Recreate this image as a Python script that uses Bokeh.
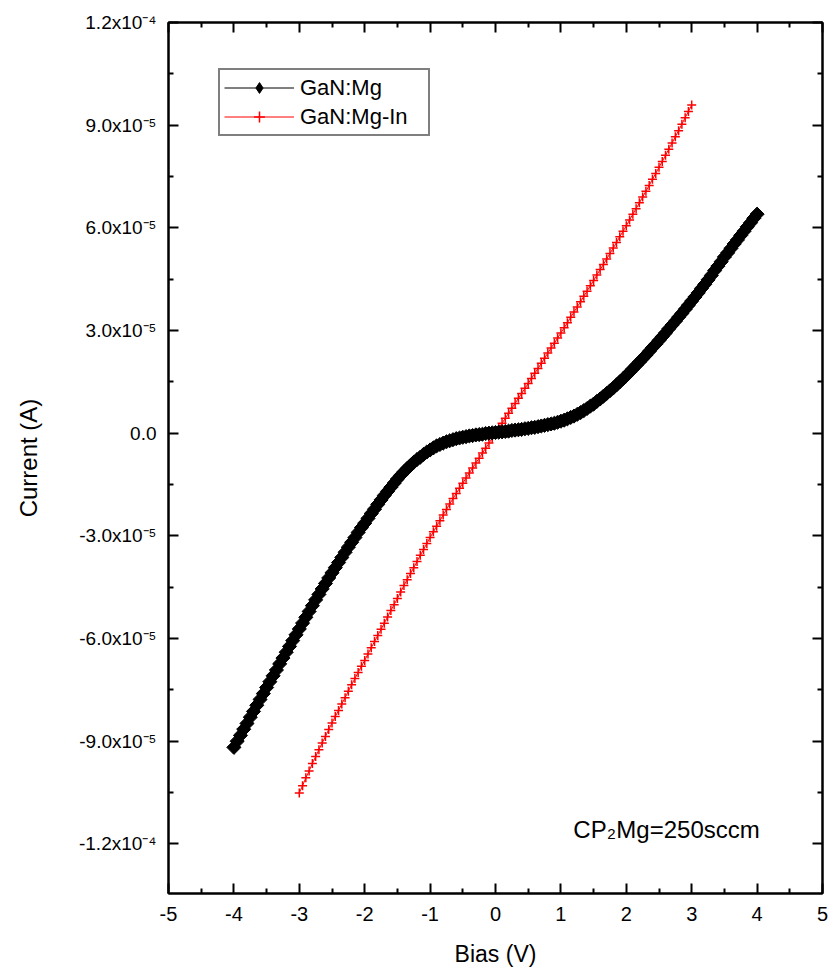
import numpy as np
from bokeh.plotting import figure
from bokeh.models import Range1d, LinearAxis, FixedTicker, Label, Legend, LegendItem
from bokeh.embed import file_html
from bokeh.resources import INLINE

FONT = "Liberation Sans"

# ---------------- data (current in units of 1e-5 A) ----------------
# GaN:Mg, bias sweep -4 V .. 4 V, 0.05 V step
mg_bias = np.round(np.arange(-4.0, 4.0001, 0.05), 2)
mg_current_e5 = [
    -9.18, -9.00, -8.83, -8.65, -8.48, -8.30, -8.13, -7.95, -7.78, -7.61,
    -7.43, -7.26, -7.09, -6.92, -6.74, -6.57, -6.40, -6.23, -6.06, -5.89,
    -5.72, -5.55, -5.38, -5.21, -5.04, -4.87, -4.71, -4.55, -4.39, -4.23,
    -4.08, -3.93, -3.78, -3.63, -3.48, -3.33, -3.19, -3.05, -2.90, -2.76,
    -2.63, -2.49, -2.35, -2.22, -2.08, -1.95, -1.82, -1.70, -1.58, -1.46,
    -1.34, -1.23, -1.13, -1.03, -0.94, -0.85, -0.77, -0.70, -0.62, -0.55,
    -0.49, -0.43, -0.37, -0.33, -0.29, -0.25, -0.22, -0.19, -0.16, -0.14,
    -0.12, -0.10, -0.08, -0.07, -0.05, -0.04, -0.03, -0.01, 0.00, 0.01,
    0.02,
    0.03, 0.04, 0.05, 0.06, 0.08, 0.09, 0.10, 0.11, 0.13, 0.14,
    0.16, 0.17, 0.19, 0.21, 0.23, 0.25, 0.27, 0.29, 0.32, 0.35,
    0.38, 0.42, 0.46, 0.50, 0.55, 0.60, 0.66, 0.72, 0.79, 0.85,
    0.93, 1.00, 1.08, 1.16, 1.24, 1.32, 1.41, 1.50, 1.59, 1.68,
    1.78, 1.88, 1.98, 2.08, 2.18, 2.28, 2.39, 2.50, 2.60, 2.71,
    2.82, 2.93, 3.05, 3.16, 3.27, 3.39, 3.50, 3.62, 3.74, 3.86,
    3.98, 4.10, 4.23, 4.35, 4.48, 4.61, 4.75, 4.88, 5.01, 5.15,
    5.27, 5.40, 5.53, 5.65, 5.78, 5.90, 6.03, 6.15, 6.28, 6.40,
]

# GaN:Mg-In, bias sweep -3 V .. 3 V, 0.05 V step
mgin_bias = np.round(np.arange(-3.0, 3.0001, 0.05), 2)
mgin_current_e5 = [
    -10.51, -10.30, -10.07, -9.87, -9.65, -9.45, -9.25, -9.05, -8.86, -8.66,
    -8.47, -8.28, -8.10, -7.91, -7.73, -7.54, -7.35, -7.17, -6.99, -6.81,
    -6.64, -6.45, -6.27, -6.09, -5.91, -5.73, -5.55, -5.37, -5.18, -5.01,
    -4.83, -4.64, -4.45, -4.28, -4.10, -3.93, -3.75, -3.57, -3.40, -3.22,
    -3.05, -2.88, -2.72, -2.56, -2.39, -2.23, -2.07, -1.91, -1.76, -1.61,
    -1.46, -1.31, -1.16, -1.02, -0.87, -0.73, -0.58, -0.44, -0.29, -0.15,
    0.00,
    0.15, 0.29, 0.44, 0.58, 0.73, 0.87, 1.02, 1.16, 1.31, 1.45,
    1.60, 1.75, 1.89, 2.04, 2.19, 2.34, 2.49, 2.63, 2.78, 2.93,
    3.08, 3.23, 3.39, 3.54, 3.69, 3.84, 4.00, 4.15, 4.31, 4.46,
    4.62, 4.78, 4.93, 5.09, 5.25, 5.41, 5.57, 5.74, 5.90, 6.06,
    6.23, 6.40, 6.56, 6.73, 6.90, 7.07, 7.24, 7.42, 7.59, 7.77,
    7.94, 8.12, 8.30, 8.48, 8.66, 8.84, 9.03, 9.22, 9.40, 9.59,
]

series_names = ["GaN:Mg", "GaN:Mg-In"]

x_ticks = [-5, -4, -3, -2, -1, 0, 1, 2, 3, 4, 5]
x_tick_labels = ["-5", "-4", "-3", "-2", "-1", "0", "1", "2", "3", "4", "5"]
x_minor = [-4.5, -3.5, -2.5, -1.5, -0.5, 0.5, 1.5, 2.5, 3.5, 4.5]
y_ticks = [-1.2e-4, -9e-5, -6e-5, -3e-5, 0.0, 3e-5, 6e-5, 9e-5, 1.2e-4]
y_tick_labels = ["-1.2x10\u207b\u2074", "-9.0x10\u207b\u2075", "-6.0x10\u207b\u2075",
                 "-3.0x10\u207b\u2075", "0.0", "3.0x10\u207b\u2075", "6.0x10\u207b\u2075",
                 "9.0x10\u207b\u2075", "1.2x10\u207b\u2074"]
y_minor = [-1.35e-4, -1.05e-4, -7.5e-5, -4.5e-5, -1.5e-5, 1.5e-5, 4.5e-5, 7.5e-5, 1.05e-4]

mg_current = np.array(mg_current_e5) * 1e-5
mgin_current = np.array(mgin_current_e5) * 1e-5

# ---------------- figure ----------------
p = figure(width=831, height=977,
           x_range=Range1d(-5, 5), y_range=Range1d(-1.345e-4, 1.2e-4),
           output_backend="svg", toolbar_location=None,
           min_border_left=168, min_border_right=9,
           min_border_top=22, min_border_bottom=84)
p.xgrid.visible = False
p.ygrid.visible = False
p.outline_line_color = "black"
p.outline_line_width = 2
p.background_fill_color = "white"
p.border_fill_color = "white"

p.add_layout(LinearAxis(), "above")
p.add_layout(LinearAxis(), "right")


def style_axis(ax, ticks, minor):
    ax.ticker = FixedTicker(ticks=ticks, minor_ticks=minor)
    ax.major_tick_in = 10
    ax.major_tick_out = 0
    ax.minor_tick_in = 5
    ax.minor_tick_out = 0
    ax.axis_line_width = 2
    ax.major_tick_line_width = 2
    ax.minor_tick_line_width = 2
    ax.axis_line_color = "black"
    ax.major_tick_line_color = "black"
    ax.minor_tick_line_color = "black"


style_axis(p.below[0], x_ticks, x_minor)
style_axis(p.above[0], x_ticks, x_minor)
style_axis(p.left[0], y_ticks, y_minor)
style_axis(p.right[0], y_ticks, y_minor)

# top / right axes: ticks only, no labels drawn
for ax in [p.above[0], p.right[0]]:
    ax.major_label_text_color = None
    ax.major_label_standoff = 0

xb = p.below[0]
xb.major_label_overrides = dict(zip(x_ticks, x_tick_labels))
xb.major_label_text_font = FONT
xb.major_label_text_font_size = "20px"
xb.major_label_text_color = "black"
xb.major_label_standoff = 13
xb.axis_label = "Bias (V)"
xb.axis_label_text_font = FONT
xb.axis_label_text_font_size = "23px"
xb.axis_label_text_font_style = "normal"
xb.axis_label_text_color = "black"
xb.axis_label_standoff = 17

yl = p.left[0]
yl.major_label_overrides = dict(zip(y_ticks, y_tick_labels))
yl.major_label_text_font = FONT
yl.major_label_text_font_size = "19px"
yl.major_label_text_color = "black"
yl.major_label_standoff = 12
yl.axis_label = "Current (A)"
yl.axis_label_text_font = FONT
yl.axis_label_text_font_size = "24px"
yl.axis_label_text_font_style = "normal"
yl.axis_label_text_color = "black"
yl.axis_label_standoff = 34

# ---------------- data glyphs ----------------
r_in_line = p.line(mgin_bias, mgin_current, line_color="red", line_width=1)
r_in_pts = p.scatter(mgin_bias, mgin_current, marker="cross", size=9,
                     line_color="red", line_width=1.5)
r_mg_line = p.line(mg_bias, mg_current, line_color="black", line_width=1)
r_mg_pts = p.scatter(mg_bias, mg_current, marker="square", angle=np.pi / 4, size=10,
                     fill_color="black", line_color="black", line_width=1)
# legend swatch only: upright diamond (legend glyphs are drawn unrotated); no visible data
r_mg_key = p.scatter(x=[np.nan], y=[np.nan], marker="diamond", size=12,
                     fill_color="black", line_color="black", line_width=1)

legend = Legend(items=[LegendItem(label=series_names[0], renderers=[r_mg_line, r_mg_key]),
                       LegendItem(label=series_names[1], renderers=[r_in_line, r_in_pts])],
                location=(50, 757))
legend.border_line_color = "black"
legend.border_line_width = 2
legend.background_fill_color = "white"
legend.background_fill_alpha = 1
legend.padding = 4
legend.margin = 0
legend.spacing = 2
legend.glyph_width = 70
legend.glyph_height = 27
legend.label_height = 27
legend.label_width = 124
legend.label_standoff = 6
legend.label_text_font = FONT
legend.label_text_font_size = "22px"
legend.label_text_color = "black"
p.add_layout(legend)

# annotation CP2Mg=250sccm
ann_x, ann_y = 1.19, -1.157e-4
p.add_layout(Label(x=ann_x, y=ann_y, text="CP", text_align="left", text_baseline="alphabetic",
                   text_font=FONT, text_font_size="24px", text_color="black"))
p.add_layout(Label(x=ann_x, y=ann_y, x_offset=34, y_offset=-5, text="2", text_align="left",
                   text_baseline="alphabetic", text_font=FONT, text_font_size="15px",
                   text_color="black"))
p.add_layout(Label(x=ann_x, y=ann_y, x_offset=43, text="Mg=250sccm", text_align="left",
                   text_baseline="alphabetic", text_font=FONT, text_font_size="24px",
                   text_color="black"))

open("out.html", "w").write(file_html(p, INLINE))
